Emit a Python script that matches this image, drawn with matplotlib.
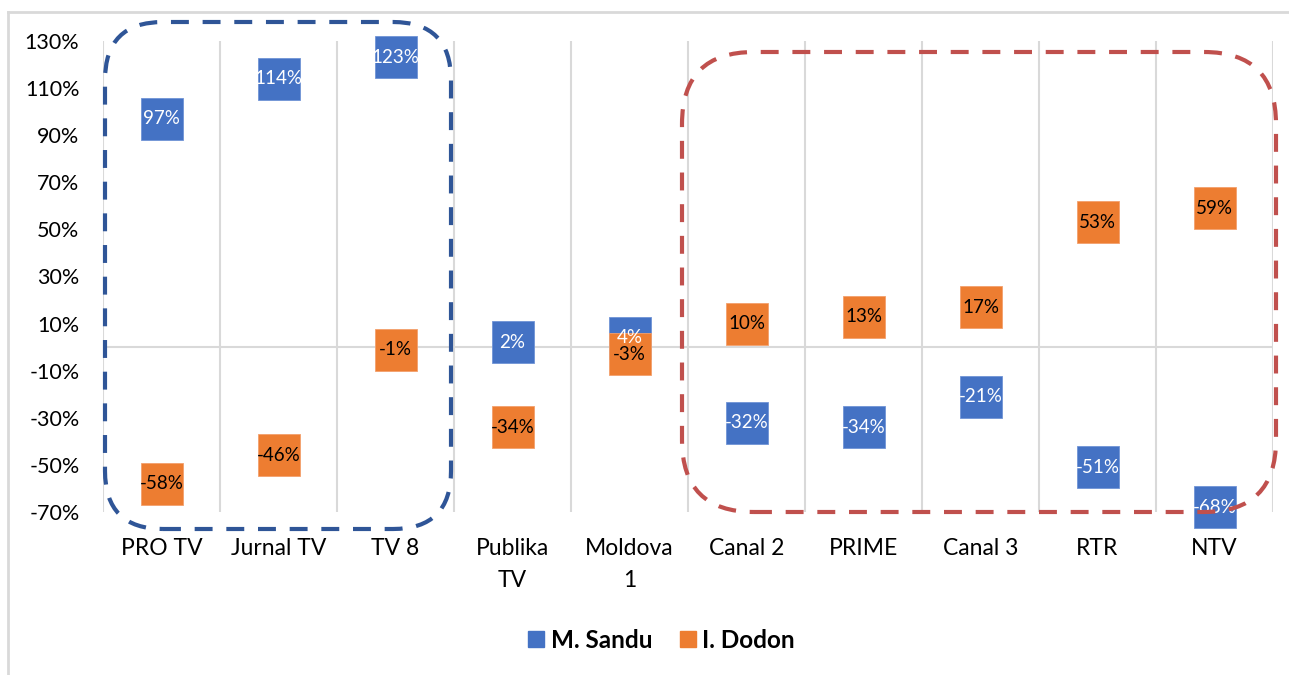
import matplotlib
matplotlib.use("Agg")
import matplotlib.pyplot as plt
from matplotlib.patches import FancyBboxPatch
from matplotlib.lines import Line2D
import numpy as np

# channels and the two candidates' values (%)
channels = ["PRO TV", "Jurnal TV", "TV 8", "Publika\nTV", "Moldova\n1",
            "Canal 2", "PRIME", "Canal 3", "RTR", "NTV"]
sandu = [97, 114, 123, 2, 4, -32, -34, -21, -51, -68]
dodon = [-58, -46, -1, -34, -3, 10, 13, 17, 53, 59]
yticks = list(range(-70, 131, 20))

BLUE = "#4472C4"
ORANGE = "#ED7D31"
GRID = "#D9D9D9"

plt.rcParams['font.family'] = ['Lato', 'DejaVu Sans']

W, H = 1289, 675
fig = plt.figure(figsize=(W / 100, H / 100), dpi=100)
ax = fig.add_axes([103 / W, (H - 512) / H, (1273 - 103) / W, (512 - 41) / H])

x = np.arange(len(channels))

# category separators and zero line
for xb in np.arange(-0.5, len(channels), 1.0):
    ax.axvline(xb, color=GRID, lw=1.5, zorder=0)
ax.axhline(0, color=GRID, lw=1.5, zorder=0)

ax.plot(x, sandu, ls="none", marker="s", ms=30, mfc=BLUE, mec="#6F93D6",
        mew=0.6, clip_on=False, zorder=3, label="M. Sandu")
ax.plot(x, dodon, ls="none", marker="s", ms=30, mfc=ORANGE, mec="#F3A06C",
        mew=0.6, clip_on=False, zorder=3, label="I. Dodon")

for xi, v in zip(x, sandu):
    ax.text(xi, v, f"{v}%", ha="center", va="center", color="white",
            fontsize=13.5, zorder=5, clip_on=False)
for xi, v in zip(x, dodon):
    ax.text(xi, v, f"{v}%", ha="center", va="center", color="black",
            fontsize=13.5, zorder=5, clip_on=False)

ax.set_xlim(-0.5, len(channels) - 0.5)
ax.set_ylim(-70, 130)
ax.set_yticks(yticks)
ax.set_yticklabels([f"{t}%" for t in yticks], fontsize=15.5)
ax.set_xticks(x)
ax.set_xticklabels(channels, fontsize=16.5, linespacing=1.6)
ax.tick_params(axis="y", length=0, pad=17)
ax.tick_params(axis="x", length=0, pad=19)
for s in ax.spines.values():
    s.set_visible(False)

# chart area border
fig.add_artist(Line2D([8 / W, 1.0], [1 - 12 / H, 1 - 12 / H], color=GRID, lw=2))
fig.add_artist(Line2D([8 / W, 8 / W], [0, 1 - 12 / H], color=GRID, lw=2))

# dashed rounded groups (inches)
fig.add_artist(FancyBboxPatch((1.05, 1.46), 4.51 - 1.05, 6.53 - 1.46,
                              boxstyle="round,pad=0,rounding_size=0.58",
                              transform=fig.dpi_scale_trans, fill=False,
                              ec="#2F5597", lw=3, ls=(0, (4.3, 3.3)), zorder=6))
fig.add_artist(FancyBboxPatch((6.82, 1.63), 12.76 - 6.82, 6.23 - 1.63,
                              boxstyle="round,pad=0,rounding_size=0.72",
                              transform=fig.dpi_scale_trans, fill=False,
                              ec="#C0504D", lw=3, ls=(0, (4.3, 3.3)), zorder=6))

leg = fig.legend(handles=[Line2D([], [], ls="none", marker="s", ms=12, color=BLUE),
                          Line2D([], [], ls="none", marker="s", ms=12, color=ORANGE)],
                 labels=["M. Sandu", "I. Dodon"], loc="center",
                 bbox_to_anchor=(660 / W, 1 - 640 / H), ncol=2, frameon=False,
                 prop={"weight": "bold", "size": 17.5}, handletextpad=0.15,
                 columnspacing=1.0, handlelength=0.9)

fig.savefig("out.png", dpi=100)
